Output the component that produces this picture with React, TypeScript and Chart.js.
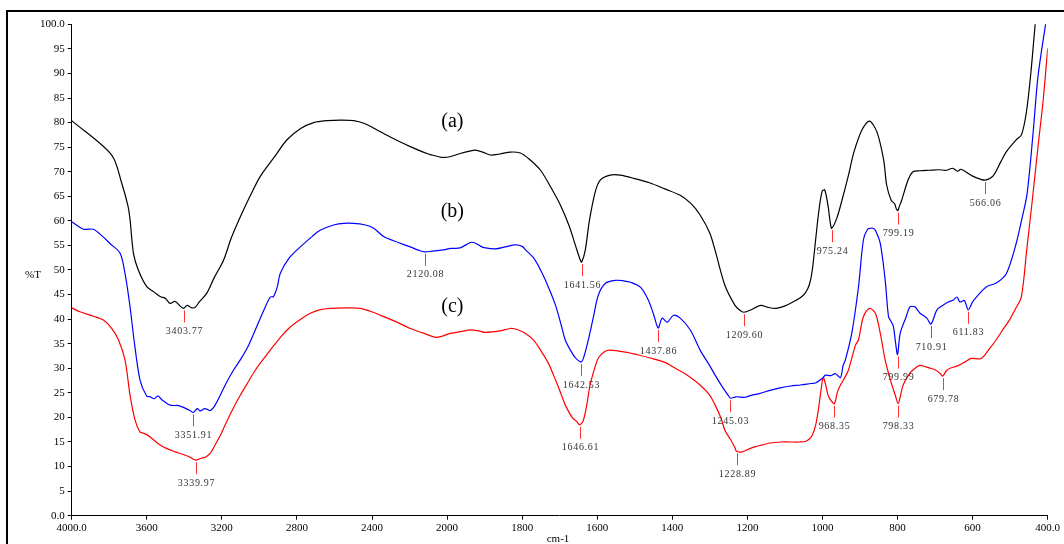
import { useEffect, useRef } from "react";
import { Chart, registerables } from "chart.js";

Chart.register(...registerables);

// ---- Data (wavenumber cm-1, %T) ----
const waveA = [4000, 3787, 3733, 3700, 3689, 3671, 3645, 3600, 3560, 3529, 3500, 3476, 3450, 3420, 3403.77, 3385, 3360, 3342, 3320, 3280, 3240, 3191, 3150, 3102, 3050, 2996, 2920, 2853, 2780, 2711, 2640, 2569, 2498, 2440, 2373, 2300, 2196, 2100, 2040, 2018, 1990, 1965, 1940, 1925, 1905, 1885, 1860, 1831, 1805, 1780, 1751, 1725, 1698, 1675, 1658, 1645, 1641.56, 1632, 1621, 1605, 1592, 1566, 1539, 1500, 1459, 1420, 1379, 1350, 1326, 1300, 1286, 1260, 1233, 1220, 1209.6, 1190, 1175, 1163, 1145, 1124, 1100, 1086, 1060, 1046, 1035, 1027, 1011, 1001, 994, 985, 979, 975.24, 962, 948, 930, 917, 895, 875, 855, 837, 829, 817, 808, 803, 799.19, 795, 789, 772, 759, 740, 715, 690, 670, 653, 640, 631, 600, 580, 566.06, 546, 525, 510, 484, 470, 457, 445, 433, 425];
const valA = [80.4, 73.4, 67.6, 63.0, 60.2, 53.4, 50.0, 46.6, 45.5, 44.6, 44.2, 43.2, 43.6, 42.6, 42.2, 42.8, 42.3, 42.4, 43.5, 45.3, 48.5, 52.0, 56.5, 60.8, 65.0, 69.0, 73.0, 76.5, 78.8, 80.0, 80.4, 80.5, 80.4, 79.8, 78.5, 77.0, 75.1, 73.6, 73.0, 72.9, 73.1, 73.7, 74.2, 74.4, 74.0, 73.4, 73.6, 74.0, 73.8, 72.5, 70.3, 67.0, 63.2, 59.0, 55.0, 52.0, 51.6, 54.0, 60.0, 66.0, 68.3, 69.3, 69.3, 68.6, 67.7, 66.5, 65.2, 63.5, 61.2, 57.5, 54.0, 46.9, 42.8, 41.8, 41.4, 41.9, 42.5, 42.8, 42.4, 42.2, 42.7, 43.2, 44.3, 45.3, 47.0, 50.0, 61.2, 66.0, 66.3, 63.0, 59.5, 58.5, 60.5, 64.2, 69.5, 73.8, 78.5, 80.3, 78.1, 72.4, 67.3, 64.2, 63.5, 62.4, 62.1, 63.0, 64.2, 68.3, 70.0, 70.2, 70.3, 70.4, 70.3, 70.7, 70.1, 70.5, 69.1, 68.5, 68.3, 69.1, 72.0, 74.1, 76.5, 77.5, 82.0, 90.0, 100.3, 106];

const waveB = [4000, 3938, 3885, 3840, 3796, 3742, 3716, 3689, 3668, 3636, 3600, 3582, 3560, 3540, 3520, 3476, 3430, 3396, 3370, 3351.91, 3330, 3316, 3290, 3262, 3236, 3182, 3140, 3102, 3060, 3022, 2980, 2942, 2925, 2905, 2889, 2840, 2782, 2720, 2676, 2600, 2551, 2498, 2440, 2391, 2338, 2260, 2196, 2150, 2120.08, 2070, 2018, 1990, 1965, 1938, 1925, 1910, 1898, 1871, 1845, 1818, 1800, 1791, 1770, 1751, 1730, 1711, 1695, 1685, 1670, 1658, 1642.53, 1635, 1624, 1610, 1597, 1578, 1551, 1530, 1511, 1485, 1464, 1450, 1437.86, 1430, 1426, 1413, 1397, 1379, 1352, 1326, 1300, 1286, 1265, 1251, 1245.03, 1230, 1206, 1190, 1166, 1140, 1113, 1085, 1059, 1030, 1019, 1000, 992, 978, 966, 952, 945, 939, 922, 904, 891, 880, 872, 865, 859, 846, 833, 824, 817, 811, 805, 799.99, 793, 777, 767, 754, 740, 722, 710.91, 695, 678, 665, 651, 642, 634, 622, 611.83, 600, 589, 563, 536, 510, 484, 470, 455, 439, 426, 405, 400];
const valB = [59.8, 58.3, 58.3, 57.0, 55.4, 53.4, 49.3, 42.5, 35.8, 27.6, 24.3, 24.2, 23.8, 24.4, 23.6, 22.5, 22.4, 21.9, 21.4, 21.0, 21.8, 21.3, 21.8, 21.4, 22.5, 26.6, 29.5, 31.7, 34.5, 37.8, 41.5, 44.5, 44.6, 46.5, 49.3, 52.5, 54.7, 56.8, 58.1, 59.2, 59.5, 59.5, 59.2, 58.5, 56.8, 55.6, 54.7, 54.0, 53.7, 53.9, 54.1, 54.4, 54.5, 55.6, 55.5, 54.8, 54.5, 54.3, 54.7, 55.1, 54.8, 54.1, 52.5, 50.0, 46.5, 42.8, 38.5, 35.7, 33.5, 32.1, 31.3, 32.5, 35.7, 40.5, 44.9, 47.3, 47.9, 47.8, 47.5, 46.5, 43.9, 41.0, 38.2, 39.8, 40.2, 39.4, 40.8, 40.2, 37.8, 33.7, 30.5, 28.6, 26.0, 24.5, 23.9, 24.2, 24.1, 24.5, 24.9, 25.5, 26.0, 26.4, 26.6, 26.9, 27.0, 28.0, 28.6, 28.5, 28.9, 28.1, 30.6, 31.7, 37.1, 46.6, 56.1, 58.3, 58.5, 58.5, 58.1, 55.4, 48.0, 40.5, 39.5, 38.5, 35.0, 32.8, 37.1, 40.5, 42.5, 42.5, 41.2, 40.2, 39.0, 41.9, 42.9, 43.5, 43.9, 44.5, 43.5, 43.8, 41.9, 43.5, 44.6, 46.6, 47.4, 49.3, 55.4, 60.0, 65.5, 77.8, 89.3, 100.3, 102];

const waveC = [4000, 3956, 3885, 3831, 3787, 3751, 3716, 3689, 3662, 3636, 3620, 3600, 3582, 3560, 3529, 3490, 3449, 3410, 3369, 3339.97, 3310, 3289, 3260, 3236, 3210, 3182, 3140, 3102, 3060, 3022, 2980, 2942, 2890, 2836, 2780, 2729, 2680, 2622, 2540, 2462, 2410, 2356, 2280, 2196, 2130, 2062, 2030, 1991, 1960, 1938, 1915, 1898, 1860, 1831, 1810, 1791, 1770, 1751, 1730, 1711, 1695, 1685, 1666, 1655, 1646.61, 1637, 1628, 1619, 1605, 1597, 1580, 1566, 1525, 1490, 1459, 1420, 1392, 1360, 1326, 1300, 1286, 1270, 1260, 1245, 1233, 1228.89, 1214, 1195, 1180, 1160, 1140, 1110, 1086, 1060, 1046, 1035, 1027, 1018, 1011, 1004, 998, 992, 985, 978, 968.35, 960, 952, 940, 931, 912, 904, 891, 875, 859, 846, 833, 819, 806, 798.33, 792, 785, 767, 750, 740, 725, 713, 700, 687, 679.78, 670, 660, 640, 620, 604, 577, 555, 537, 520, 502, 485, 470, 456, 441, 426, 412, 400];
const valC = [42.3, 41.5, 40.6, 39.8, 38.1, 35.8, 31.7, 24.5, 19.4, 17.0, 16.8, 16.5, 16.0, 15.3, 14.4, 13.6, 13.0, 12.5, 11.9, 11.3, 11.7, 11.9, 12.8, 14.4, 16.2, 18.5, 21.8, 24.5, 27.2, 29.6, 31.8, 33.7, 36.2, 38.4, 40.0, 41.2, 41.9, 42.2, 42.3, 42.2, 41.6, 40.8, 39.6, 38.1, 37.2, 36.3, 36.5, 37.1, 37.5, 37.8, 37.6, 37.3, 37.6, 38.1, 37.8, 37.1, 35.8, 33.7, 31.0, 27.6, 24.5, 22.5, 19.9, 19.2, 18.5, 19.4, 22.5, 26.6, 30.5, 32.1, 33.4, 33.7, 33.3, 32.7, 32.1, 31.2, 30.0, 28.6, 26.6, 24.5, 22.5, 19.8, 17.4, 15.5, 13.8, 13.1, 13.0, 13.6, 14.0, 14.4, 14.8, 15.0, 15.0, 15.0, 15.1, 15.6, 16.4, 18.5, 21.5, 25.5, 28.1, 26.8, 24.5, 23.5, 22.8, 25.2, 26.6, 28.2, 29.6, 34.7, 35.8, 40.5, 42.2, 41.2, 37.1, 31.7, 27.6, 24.5, 22.8, 24.5, 26.6, 29.0, 30.2, 30.6, 30.3, 30.0, 29.7, 29.0, 28.4, 29.5, 30.0, 30.5, 31.3, 32.0, 32.0, 34.0, 35.8, 37.8, 39.8, 42.2, 44.6, 54.0, 64.2, 75.0, 84.6, 95.1];

const peaksA = [3403.77, 1641.56, 1209.6, 975.24, 799.19, 566.06];
const peaksB = [3351.91, 2120.08, 1642.53, 1437.86, 1245.03, 799.99, 710.91, 611.83];
const peaksC = [3339.97, 1646.61, 1228.89, 968.35, 798.33, 679.78];

const seriesNames = ["(a)", "(b)", "(c)"];
const seriesNameWave = 1986;
const seriesNameValues = [80.1, 61.8, 42.5];

const yTicks = [0, 5, 10, 15, 20, 25, 30, 35, 40, 45, 50, 55, 60, 65, 70, 75, 80, 85, 90, 95, 100];
const xTickWaves = [4000, 3600, 3200, 2800, 2400, 2000, 1800, 1600, 1400, 1200, 1000, 800, 600, 400];

// piecewise axis: 4000-2000 compressed by 2 relative to 2000-400
const toU = (w: number) => (w >= 2000 ? (4000 - w) / 2 : 1000 + (2000 - w));
const fromU = (u: number) => (u <= 1000 ? 4000 - 2 * u : 2000 - (u - 1000));

const SERIF = "'Liberation Serif', 'DejaVu Serif', serif";

function build(waves: number[], vals: number[]) {
  return waves.map((w, i) => ({ x: toU(w), y: vals[i] }));
}

export default function App() {
  const ref = useRef<HTMLCanvasElement | null>(null);

  useEffect(() => {
    if (!ref.current) return;
    const series = [
      { waves: waveA, vals: valA, color: "#000000", peaks: peaksA },
      { waves: waveB, vals: valB, color: "#0000ff", peaks: peaksB },
      { waves: waveC, vals: valC, color: "#ff0000", peaks: peaksC },
    ];

    const overlay = {
      id: "overlay",
      afterDraw(chart: any) {
        const ctx = chart.ctx as CanvasRenderingContext2D;
        const xs = chart.scales.x;
        const ys = chart.scales.y;
        ctx.save();
        // outer frame
        ctx.strokeStyle = "#000";
        ctx.lineWidth = 2;
        ctx.beginPath();
        ctx.moveTo(7, 560);
        ctx.lineTo(7, 11);
        ctx.lineTo(1080, 11);
        ctx.stroke();

        // axis titles
        ctx.fillStyle = "#000";
        ctx.font = `11px ${SERIF}`;
        ctx.textAlign = "center";
        ctx.textBaseline = "middle";
        ctx.fillText("%T", 33, 275);
        ctx.fillText("cm-1", 558, 539);

        // series names
        ctx.font = `20px ${SERIF}`;
        seriesNames.forEach((n, i) => {
          ctx.fillText(n, xs.getPixelForValue(toU(seriesNameWave)), ys.getPixelForValue(seriesNameValues[i]));
        });

        // peak markers
        ctx.font = `10px ${SERIF}`;
        (ctx as any).letterSpacing = "0.7px";
        series.forEach((s) => {
          s.peaks.forEach((p) => {
            const idx = s.waves.indexOf(p);
            const v = idx >= 0 ? s.vals[idx] : 0;
            const px = Math.round(xs.getPixelForValue(toU(p))) + 0.5;
            const py = ys.getPixelForValue(v);
            ctx.strokeStyle = "#ff3333";
            ctx.lineWidth = 1;
            ctx.beginPath();
            ctx.moveTo(px, py + 2);
            ctx.lineTo(px, py + 14);
            ctx.stroke();
            ctx.fillStyle = "#333";
            ctx.fillText(p.toFixed(2), px, py + 23);
          });
        });
        ctx.restore();
      },
    };

    const chart = new Chart(ref.current, {
      type: "line",
      data: {
        datasets: series.map((s, i) => ({
          label: seriesNames[i],
          data: build(s.waves, s.vals),
          borderColor: s.color,
          borderWidth: 1.2,
          pointRadius: 0,
          fill: false,
          tension: 0.3,
        })),
      },
      options: {
        animation: false,
        responsive: false,
        devicePixelRatio: 1,
        layout: { padding: { top: 24.3, right: 16.3, left: 0, bottom: 0 } },
        plugins: { legend: { display: false }, tooltip: { enabled: false } },
        scales: {
          x: {
            type: "linear",
            min: 0,
            max: 2600,
            afterBuildTicks(scale: any) {
              scale.ticks = xTickWaves.map((w) => ({ value: toU(w) }));
            },
            afterFit(scale: any) {
              scale.height = 28.3;
            },
            ticks: {
              color: "#000",
              font: { family: SERIF, size: 11 },
              padding: 2,
              maxRotation: 0,
              autoSkip: false,
              callback: (v: any) => {
                const w = Math.round(fromU(Number(v)));
                return w === 4000 || w === 400 ? w.toFixed(1) : String(w);
              },
            },
            grid: { drawOnChartArea: false, drawTicks: true, tickLength: 4, color: "#000" },
            border: { display: true, color: "#000", width: 1 },
          },
          y: {
            type: "linear",
            min: 0,
            max: 100,
            afterBuildTicks(scale: any) {
              scale.ticks = yTicks.map((v) => ({ value: v }));
            },
            afterFit(scale: any) {
              scale.width = 71.7;
            },
            ticks: {
              color: "#000",
              font: { family: SERIF, size: 11 },
              padding: 3,
              autoSkip: false,
              callback: (v: any) => {
                const n = Number(v);
                return n === 0 || n === 100 ? n.toFixed(1) : String(n);
              },
            },
            grid: { drawOnChartArea: false, drawTicks: true, tickLength: 4, color: "#000" },
            border: { display: true, color: "#000", width: 1 },
          },
        },
      },
      plugins: [overlay],
    } as any);

    return () => chart.destroy();
  }, []);

  return (
    <div style={{ position: "absolute", left: 0, top: 0, width: 1064, height: 544, overflow: "hidden", background: "#fff" }}>
      <canvas ref={ref} width={1064} height={544} style={{ width: 1064, height: 544, display: "block" }} />
    </div>
  );
}
